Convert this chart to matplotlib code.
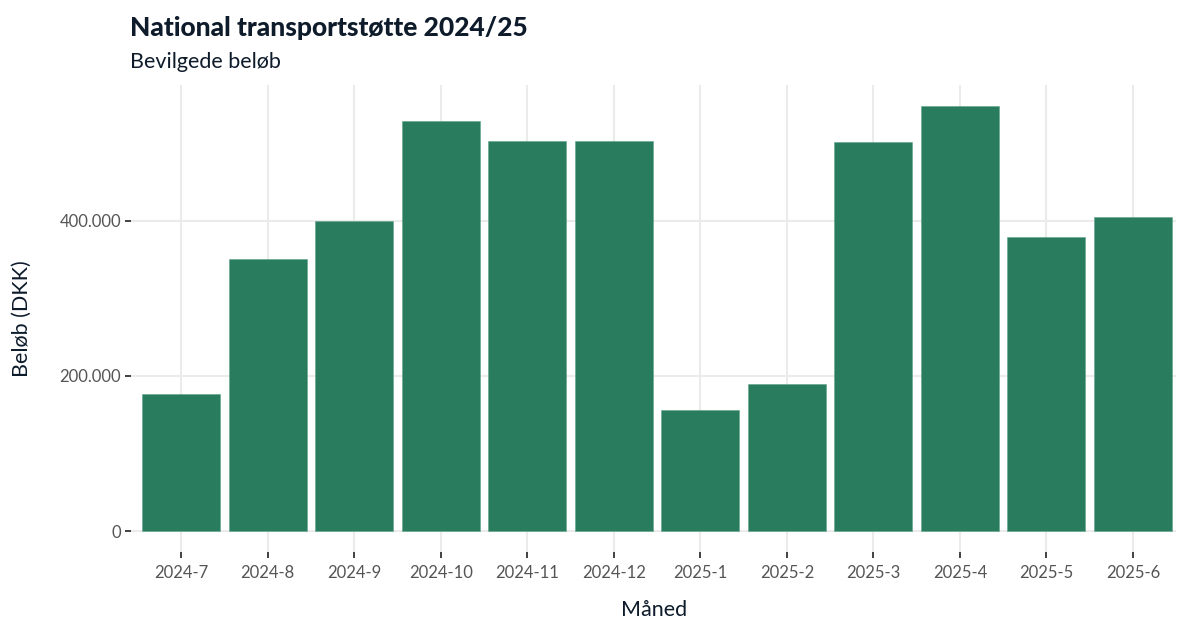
import numpy as np
import matplotlib.pyplot as plt
from matplotlib.ticker import FuncFormatter

# Data
months = ['2024-7', '2024-8', '2024-9', '2024-10', '2024-11', '2024-12',
          '2025-1', '2025-2', '2025-3', '2025-4', '2025-5', '2025-6']
amounts = [177000, 350000, 399000, 528000, 502000, 503000,
           156000, 190000, 501000, 548000, 379000, 405000]

plt.rcParams['font.family'] = ['Lato', 'DejaVu Sans']

fig = plt.figure(figsize=(11.77, 6.19), dpi=100)
ax = fig.add_axes([0.1113, 0.108, 0.888, 0.755])

x = np.arange(len(months))
ax.bar(x, amounts, width=0.9, color='#297d5e', edgecolor='#5fa58a', linewidth=0.4, zorder=3)

ax.set_xlim(-0.58, 11.5)
ax.set_ylim(-27000, 575000)
ax.set_xticks(x)
ax.set_xticklabels(months)
ax.set_yticks([0, 200000, 400000])
ax.yaxis.set_major_formatter(FuncFormatter(lambda v, p: f'{int(v):,}'.replace(',', '.')))

ax.grid(True, color='#ebebeb', linewidth=1.5, zorder=0)
for s in ax.spines.values():
    s.set_visible(False)
ax.tick_params(axis='both', colors='#333333', labelcolor='#555555', labelsize=12,
               length=4, width=1.3)
ax.tick_params(axis='y', pad=3)
ax.tick_params(axis='x', pad=5)

ax.set_xlabel('Måned', fontsize=15.5, color='#0d1b2a', labelpad=14)
ax.set_ylabel('Beløb (DKK)', fontsize=15.5, color='#0d1b2a', labelpad=20)

fig.text(0.1105, 0.955, 'National transportstøtte 2024/25', fontsize=19, fontweight='black',
         color='#0d1b2a', va='center', ha='left')
fig.text(0.1105, 0.9, 'Bevilgede beløb', fontsize=15.5, color='#0d1b2a', va='center', ha='left')

fig.savefig('out.png', dpi=100)
